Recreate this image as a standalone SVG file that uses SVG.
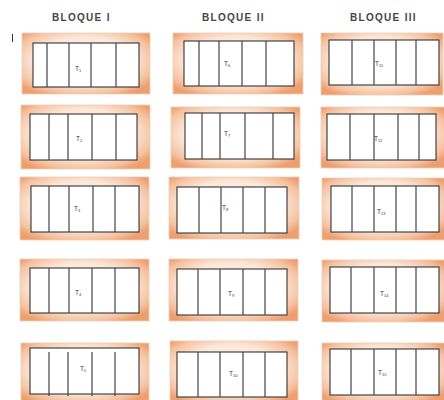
<svg xmlns="http://www.w3.org/2000/svg" width="444" height="400" viewBox="0 0 444 400">
<defs>
<radialGradient id="peach" cx="48%" cy="45%" r="64%">
<stop offset="0" stop-color="#fffbf8"/>
<stop offset="0.6" stop-color="#fce7da"/>
<stop offset="0.86" stop-color="#f5c2a0"/>
<stop offset="1" stop-color="#ee9f70"/>
</radialGradient>
<style>
.outer{fill:url(#peach);stroke:#f3cdb4;stroke-width:0.8}
.inner{fill:#ffffff;stroke:#333333;stroke-width:1.1}
.div{stroke:#444444;stroke-width:1.2}
.hdr{font-family:"Liberation Sans",Arial,sans-serif;font-weight:bold;font-size:10px;fill:#454545;letter-spacing:1.3px}
.lbl{font-family:"Liberation Sans",Arial,sans-serif;font-size:6.5px;fill:#3a3a3a}
.sub{font-size:4px}
</style>
</defs>
<rect width="444" height="400" fill="#ffffff"/>
<g id="headers">
<text class="hdr" x="52" y="21">BLOQUE I</text>
<text class="hdr" x="202" y="21">BLOQUE II</text>
<text class="hdr" x="350" y="21">BLOQUE III</text>
</g>
<line x1="12.5" y1="34" x2="12.5" y2="42" stroke="#333" stroke-width="1"/>
<g id="T1"><rect class="outer" x="22" y="33" width="128" height="61"/><rect class="inner" x="33" y="43" width="106" height="44"/><path class="div" d="M47 43V87M69 43V87M91 43V87M116 43V87"/><text class="lbl" x="75" y="71">T<tspan class="sub" dy="1.2">1</tspan></text></g>
<g id="T2"><rect class="outer" x="21" y="105" width="129" height="64"/><rect class="inner" x="30" y="114" width="107" height="46"/><path class="div" d="M49 114V160M68 114V160M92 114V160M116 114V160"/><text class="lbl" x="76" y="141">T<tspan class="sub" dy="1.2">2</tspan></text></g>
<g id="T3"><rect class="outer" x="20" y="177" width="129" height="63"/><rect class="inner" x="31" y="186" width="108" height="46"/><path class="div" d="M49 186V232M69 186V232M93 186V232M115 186V232"/><text class="lbl" x="74" y="211">T<tspan class="sub" dy="1.2">3</tspan></text></g>
<g id="T4"><rect class="outer" x="20" y="259" width="129" height="62"/><rect class="inner" x="30" y="268" width="109" height="45"/><path class="div" d="M49 268V313M69 268V313M92 268V313M115 268V313"/><text class="lbl" x="75" y="295">T<tspan class="sub" dy="1.2">4</tspan></text></g>
<g id="T5"><rect class="outer" x="21" y="343" width="128" height="60"/><rect class="inner" x="30" y="348" width="109" height="46"/><path class="div" d="M49 352V396M68 352V396M92 352V396M115 352V396"/><text class="lbl" x="80" y="371">T<tspan class="sub" dy="1.2">5</tspan></text></g>
<g id="T6"><rect class="outer" x="173" y="33" width="130" height="61"/><rect class="inner" x="184" y="41" width="110" height="45"/><path class="div" d="M199 41V86M219 41V86M242 41V86M266 41V86"/><text class="lbl" x="224" y="66">T<tspan class="sub" dy="1.2">6</tspan></text></g>
<g id="T7"><rect class="outer" x="171" y="107" width="129" height="61"/><rect class="inner" x="185" y="113" width="109" height="46"/><path class="div" d="M202 113V159M220 113V159M245 113V159M273 113V159"/><text class="lbl" x="224" y="136">T<tspan class="sub" dy="1.2">7</tspan></text></g>
<g id="T8"><rect class="outer" x="169" y="177" width="130" height="62"/><rect class="inner" x="177" y="187" width="110" height="46"/><path class="div" d="M199 187V233M221 187V233M243 187V233M265 187V233"/><text class="lbl" x="222" y="210">T<tspan class="sub" dy="1.2">8</tspan></text></g>
<g id="T9"><rect class="outer" x="169" y="259" width="129" height="62"/><rect class="inner" x="177" y="269" width="110" height="46"/><path class="div" d="M198 269V315M220 269V315M243 269V315M265 269V315"/><text class="lbl" x="228" y="296">T<tspan class="sub" dy="1.2">9</tspan></text></g>
<g id="T10"><rect class="outer" x="170" y="341" width="128" height="62"/><rect class="inner" x="177" y="352" width="110" height="45"/><path class="div" d="M198 352V397M220 352V397M243 352V397M265 352V397"/><text class="lbl" x="229" y="376">T<tspan class="sub" dy="1.2">10</tspan></text></g>
<g id="T11"><rect class="outer" x="321" y="33" width="122" height="62"/><rect class="inner" x="329" y="40" width="110" height="45"/><path class="div" d="M352 40V85M374 40V85M396 40V85M416 40V85"/><text class="lbl" x="375" y="66">T<tspan class="sub" dy="1.2">11</tspan></text></g>
<g id="T12"><rect class="outer" x="321" y="107" width="124" height="61"/><rect class="inner" x="327" y="114" width="109" height="46"/><path class="div" d="M350 114V160M374 114V160M398 114V160M419 114V160"/><text class="lbl" x="374" y="141">T<tspan class="sub" dy="1.2">12</tspan></text></g>
<g id="T13"><rect class="outer" x="322" y="178" width="123" height="62"/><rect class="inner" x="331" y="186" width="108" height="46"/><path class="div" d="M352 186V232M374 186V232M396 186V232M416 186V232"/><text class="lbl" x="377" y="214">T<tspan class="sub" dy="1.2">13</tspan></text></g>
<g id="T14"><rect class="outer" x="322" y="260" width="123" height="62"/><rect class="inner" x="330" y="267" width="109" height="46"/><path class="div" d="M351 267V313M374 267V313M396 267V313M416 267V313"/><text class="lbl" x="380" y="296">T<tspan class="sub" dy="1.2">14</tspan></text></g>
<g id="T15"><rect class="outer" x="322" y="343" width="123" height="60"/><rect class="inner" x="330" y="349" width="109" height="46"/><path class="div" d="M351 349V395M374 349V395M396 349V395M416 349V395"/><text class="lbl" x="378" y="375">T<tspan class="sub" dy="1.2">15</tspan></text></g>
<g id="connectors"/>
</svg>
